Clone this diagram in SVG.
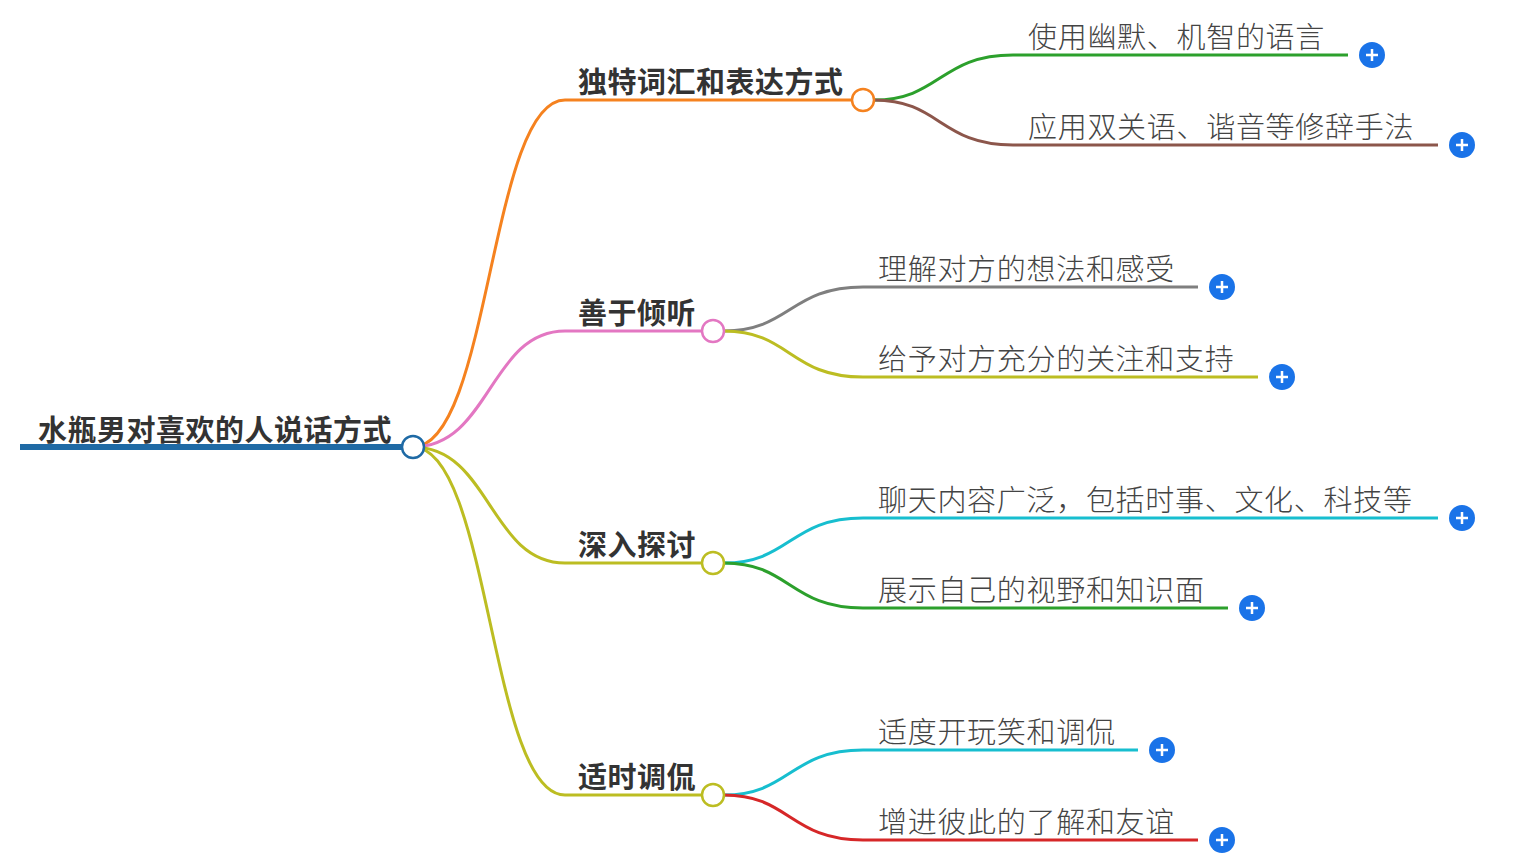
<svg xmlns="http://www.w3.org/2000/svg" width="1525" height="862" viewBox="0 0 1525 862">
<style>
.c{fill:none;stroke-width:3}
.b{font-family:"Noto Sans CJK SC",sans-serif;font-weight:bold;font-size:29px;fill:#333;letter-spacing:0.5px}
.l{font-family:"Noto Sans CJK SC",sans-serif;font-weight:300;font-size:29px;fill:#444;letter-spacing:0.7px}
.n{fill:#fff;stroke-width:2.5}
.p{fill:#1a73e8}
.pl{stroke:#fff;stroke-width:2.5}
</style>
<rect width="1525" height="862" fill="#fff"/>
<g id="connectors">
<path d="M20 447H413" stroke="#1f6aa5" style="fill:none;stroke-width:6"/>
<path class="c" stroke="#f5821f" d="M413 447C490 447 490 100 565 100H852"/>
<path class="c" stroke="#e377c2" d="M413 447C490 447 490 331 565 331H702"/>
<path class="c" stroke="#bcbd22" d="M413 447C490 447 490 563 565 563H702"/>
<path class="c" stroke="#bcbd22" d="M413 447C490 447 490 795 565 795H702"/>
<path class="c" stroke="#2ca02c" d="M874 100C940 100 940 55 1013 55H1348"/>
<path class="c" stroke="#8c564b" d="M874 100C940 100 940 145 1013 145H1438"/>
<path class="c" stroke="#7f7f7f" d="M724 331C790 331 790 287 863 287H1198"/>
<path class="c" stroke="#bcbd22" d="M724 331C790 331 790 377 863 377H1258"/>
<path class="c" stroke="#17becf" d="M724 563C790 563 790 518 863 518H1438"/>
<path class="c" stroke="#2ca02c" d="M724 563C790 563 790 608 863 608H1228"/>
<path class="c" stroke="#17becf" d="M724 795C790 795 790 750 863 750H1138"/>
<path class="c" stroke="#d62728" d="M724 795C790 795 790 840 863 840H1198"/>
</g>
<g id="root"><text class="b" x="38" y="441">水瓶男对喜欢的人说话方式</text><circle class="n" cx="413" cy="447" r="11" stroke="#1f6aa5"/></g>
<g id="b1"><text class="b" x="578" y="93">独特词汇和表达方式</text><circle class="n" cx="863" cy="100" r="11" stroke="#f5821f"/></g>
<g id="b2"><text class="b" x="578" y="324">善于倾听</text><circle class="n" cx="713" cy="331" r="11" stroke="#e377c2"/></g>
<g id="b3"><text class="b" x="578" y="556">深入探讨</text><circle class="n" cx="713" cy="563" r="11" stroke="#bcbd22"/></g>
<g id="b4"><text class="b" x="578" y="788">适时调侃</text><circle class="n" cx="713" cy="795" r="11" stroke="#bcbd22"/></g>
<g id="l1"><text class="l" x="1028" y="48">使用幽默、机智的语言</text><circle class="p" cx="1372" cy="55" r="13"/><path class="pl" d="M1366 55h12M1372 49v12"/></g>
<g id="l2"><text class="l" x="1028" y="138">应用双关语、谐音等修辞手法</text><circle class="p" cx="1462" cy="145" r="13"/><path class="pl" d="M1456 145h12M1462 139v12"/></g>
<g id="l3"><text class="l" x="878" y="280">理解对方的想法和感受</text><circle class="p" cx="1222" cy="287" r="13"/><path class="pl" d="M1216 287h12M1222 281v12"/></g>
<g id="l4"><text class="l" x="878" y="370">给予对方充分的关注和支持</text><circle class="p" cx="1282" cy="377" r="13"/><path class="pl" d="M1276 377h12M1282 371v12"/></g>
<g id="l5"><text class="l" x="878" y="511">聊天内容广泛，包括时事、文化、科技等</text><circle class="p" cx="1462" cy="518" r="13"/><path class="pl" d="M1456 518h12M1462 512v12"/></g>
<g id="l6"><text class="l" x="878" y="601">展示自己的视野和知识面</text><circle class="p" cx="1252" cy="608" r="13"/><path class="pl" d="M1246 608h12M1252 602v12"/></g>
<g id="l7"><text class="l" x="878" y="743">适度开玩笑和调侃</text><circle class="p" cx="1162" cy="750" r="13"/><path class="pl" d="M1156 750h12M1162 744v12"/></g>
<g id="l8"><text class="l" x="878" y="833">增进彼此的了解和友谊</text><circle class="p" cx="1222" cy="840" r="13"/><path class="pl" d="M1216 840h12M1222 834v12"/></g>
</svg>
